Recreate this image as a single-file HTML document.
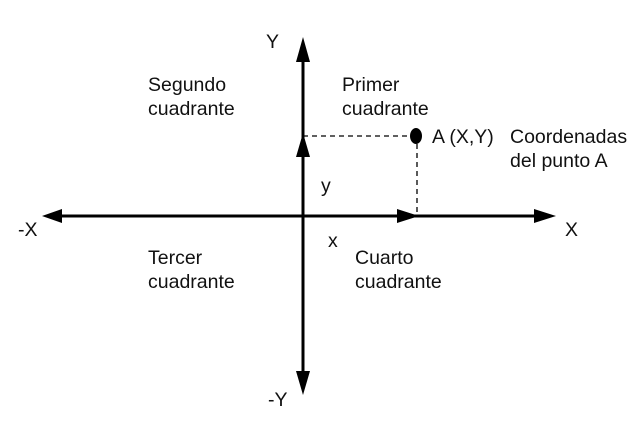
<!DOCTYPE html>
<html><head><style>
body{margin:0;background:#fff}
svg text{font-family:"Liberation Sans",sans-serif;font-size:19.5px;fill:#111}
</style></head><body>
<svg width="631" height="421" xmlns="http://www.w3.org/2000/svg">
<g stroke="#000" stroke-width="3">
<line x1="58" y1="216" x2="540" y2="216"/>
<line x1="303" y1="55" x2="303" y2="378"/>
</g>
<g fill="#000">
<polygon points="42,216 62,209 62,223"/>
<polygon points="556,216 534,209 534,223"/>
<polygon points="419,216 397,209 397,223"/>
<polygon points="303,37 296,62 310,62"/>
<polygon points="303,133 296,157 310,157"/>
<polygon points="303,395 296,371 310,371"/>
<ellipse cx="416" cy="136" rx="6" ry="8"/>
</g>
<g stroke="#000" stroke-width="1.3" stroke-dasharray="5,4" fill="none">
<line x1="303" y1="136" x2="410" y2="136"/>
<line x1="417" y1="144" x2="417" y2="215"/>
</g>
<text x="266" y="48">Y</text>
<text x="268" y="406">-Y</text>
<text x="18" y="236">-X</text>
<text x="565" y="236">X</text>
<text x="148" y="91">Segundo</text>
<text x="148" y="115">cuadrante</text>
<text x="342" y="91">Primer</text>
<text x="342" y="115">cuadrante</text>
<text x="148" y="264">Tercer</text>
<text x="148" y="288">cuadrante</text>
<text x="355" y="264">Cuarto</text>
<text x="355" y="288">cuadrante</text>
<text x="432" y="143">A (X,Y)</text>
<text x="510" y="143">Coordenadas</text>
<text x="510" y="167">del punto A</text>
<text x="321" y="192">y</text>
<text x="328" y="247">x</text>
</svg>
</body></html>
